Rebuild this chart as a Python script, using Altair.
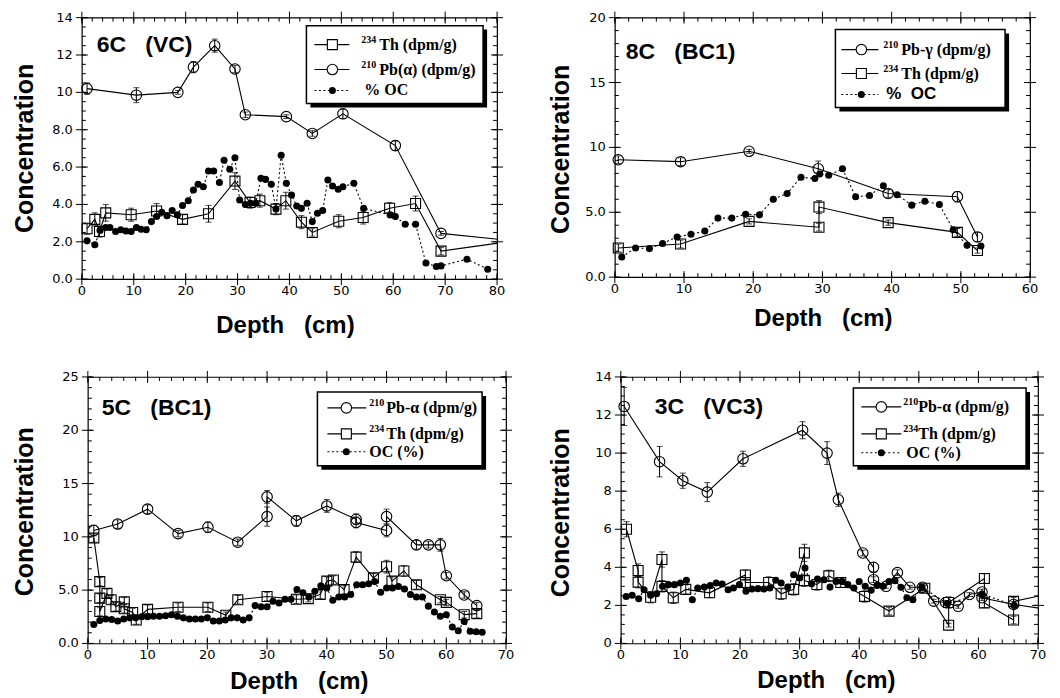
import altair as alt
import pandas as pd

# ---------------- data ----------------
# 6C (VC)
c6_th_depth = [1.0, 2.5, 3.4, 4.6, 9.5, 14.4, 19.4, 24.4, 29.5, 32.4, 34.3, 37.4, 39.3, 42.3, 44.4, 49.5, 54.2, 59.3, 64.3, 69.2, 85.0]
c6_th_conc = [2.7, 3.2, 2.55, 3.55, 3.45, 3.65, 3.2, 3.5, 5.25, 4.1, 4.2, 3.75, 4.2, 3.05, 2.5, 3.1, 3.3, 3.8, 4.05, 1.5, 2.12]
c6_th_err = [0.3, 0.35, 0.3, 0.45, 0.35, 0.4, 0.25, 0.45, 0.45, 0.3, 0.35, 0.3, 0.45, 0.35, 0.2, 0.35, 0.35, 0.3, 0.4, 0.2, 0.0]
c6_pb_depth = [1.0, 10.5, 18.5, 21.5, 25.6, 29.5, 31.5, 39.4, 44.4, 50.3, 60.4, 69.2, 85.0]
c6_pb_conc = [10.2, 9.85, 10.0, 11.35, 12.5, 11.25, 8.8, 8.7, 7.8, 8.85, 7.15, 2.45, 2.0]
c6_pb_err = [0.3, 0.4, 0.1, 0.3, 0.35, 0.2, 0.15, 0.1, 0.15, 0.25, 0.25, 0.1, 0.0]
c6_oc_depth = [1.0, 2.5, 3.5, 4.6, 5.4, 6.5, 7.5, 8.5, 9.5, 10.5, 11.4, 12.4, 13.4, 14.4, 15.4, 16.4, 17.4, 18.4, 19.4, 20.5,
               21.5, 22.4, 23.4, 24.4, 25.4, 26.5, 27.4, 28.5, 29.5, 30.4, 31.5, 32.5, 33.5, 34.5, 35.4, 36.5, 37.4, 38.4, 39.4, 40.4,
               41.4, 42.3, 43.4, 44.4, 45.4, 46.4, 47.4, 48.3, 49.4, 50.3, 52.4, 54.3, 59.4, 60.4, 62.3, 64.3, 66.3, 68.3, 69.2, 74.2, 78.2]
c6_oc_conc = [2.05, 1.84, 2.6, 2.76, 2.76, 2.55, 2.64, 2.58, 2.55, 2.76, 2.67, 2.64, 3.08, 3.35, 3.58, 3.4, 3.67, 3.44, 3.94, 4.2,
              4.77, 5.08, 4.95, 5.79, 5.79, 5.17, 6.36, 5.88, 6.5, 4.24, 4.0, 4.06, 4.06, 5.4, 5.34, 5.08, 3.76, 6.63, 5.13, 4.5,
              3.92, 3.79, 4.06, 3.08, 3.53, 3.67, 5.31, 4.99, 4.81, 4.95, 5.13, 3.79, 3.44, 3.35, 2.94, 2.94, 0.86, 0.68, 0.71, 1.07, 0.53]

# 8C (BC1)
c8_pb_depth = [0.5, 9.5, 19.4, 29.4, 39.5, 49.5, 52.4]
c8_pb_conc = [9.05, 8.9, 9.7, 8.35, 6.45, 6.2, 3.1]
c8_pb_err = [0.3, 0.3, 0.15, 0.6, 0.3, 0.4, 0.35]
c8_th_depth = [0.5, 9.5, 19.4, 29.5, 29.5, 39.5, 49.5, 52.4]
c8_th_conc = [2.25, 2.55, 4.3, 3.85, 5.4, 4.2, 3.45, 2.05]
c8_th_err = [0.3, 0.3, 0.2, 0.3, 0.5, 0.2, 0.3, 0.2]
c8_oc_depth = [1.0, 3.0, 5.0, 6.9, 9.0, 11.0, 13.0, 14.9, 16.9, 18.9, 20.9, 22.9, 24.9, 26.9, 28.9, 29.6, 30.9, 32.9, 34.8, 36.8,
               38.8, 40.8, 42.9, 44.8, 46.9, 48.9, 50.9, 52.9]
c8_oc_conc = [1.55, 2.25, 2.2, 2.6, 3.1, 3.3, 3.55, 4.55, 4.55, 4.85, 4.8, 6.0, 6.45, 7.7, 7.6, 7.95, 7.85, 8.35, 6.2, 6.3,
              7.05, 6.35, 5.55, 5.85, 5.6, 3.65, 2.45, 2.4]

# 5C (BC1)
c5_pb_depth = [1.0, 5.0, 10.0, 15.1, 20.1, 25.1, 30.0, 30.0, 34.9, 40.0, 44.9, 44.9, 50.0, 50.0, 55.0, 57.0, 59.0, 60.0, 63.0, 65.1]
c5_pb_conc = [10.6, 11.2, 12.6, 10.3, 10.9, 9.5, 11.9, 13.75, 11.5, 12.9, 11.65, 11.35, 10.6, 11.9, 9.25, 9.25, 9.25, 6.35, 4.55, 3.55]
c5_pb_err = [0.5, 0.4, 0.4, 0.3, 0.5, 0.3, 0.9, 0.6, 0.5, 0.6, 0.5, 0.5, 0.6, 0.7, 0.4, 0.3, 0.6, 0.3, 0.3, 0.3]
c5_th_depth = [1.0, 2.0, 2.0, 2.0, 3.2, 3.9, 4.7, 6.1, 6.1, 7.5, 8.1, 10.0, 15.1, 20.1, 23.1, 25.1, 30.0, 34.9, 36.9, 38.9,
               40.0, 41.1, 42.9, 44.9, 47.8, 50.0, 50.9, 52.9, 55.0, 59.0, 60.0, 63.0, 65.1]
c5_th_conc = [9.9, 5.8, 4.25, 3.0, 4.7, 4.1, 3.45, 3.9, 3.25, 2.9, 2.2, 3.2, 3.4, 3.4, 2.65, 4.1, 4.4, 4.15, 4.2, 4.6,
              5.85, 5.95, 5.05, 8.1, 6.15, 7.2, 5.85, 6.8, 5.5, 4.1, 3.85, 2.7, 2.8]
c5_th_err = [0.4, 0.4, 0.4, 0.4, 0.4, 0.4, 0.4, 0.4, 0.4, 0.4, 0.4, 0.4, 0.4, 0.4, 0.3, 0.4, 0.4, 0.4, 0.3, 0.4,
             0.4, 0.4, 0.4, 0.5, 0.4, 0.6, 0.4, 0.5, 0.4, 0.3, 0.3, 0.3, 0.4]
c5_oc_depth = [1, 2, 3, 4, 5, 6, 7, 8, 9, 10, 11, 12, 13, 14, 15, 16, 17, 18, 19, 20, 21, 22, 23, 24, 25, 26, 27,
               28, 29, 30, 31, 32, 33, 34, 35, 36, 37, 38, 39, 40, 41, 42, 43, 44, 45, 46, 47, 48,
               49, 50, 51, 52, 53, 54, 55, 56, 57, 58, 59, 60, 61, 62, 63, 64, 65, 66]
c5_oc_conc = [1.78, 2.15, 2.3, 2.25, 2.1, 2.3, 2.4, 2.4, 2.5, 2.5, 2.55, 2.55, 2.6, 2.7, 2.55, 2.4, 2.3, 2.3, 2.3, 2.4, 2.1, 2.1, 2.2, 2.4, 2.4, 2.2, 2.4,
              3.55, 3.45, 3.45, 3.95, 3.8, 4.15, 4.15, 5.05, 4.75, 4.35, 4.9, 5.4, 5.2, 4.05, 4.35, 4.35, 4.6, 5.5, 5.5, 5.6, 5.8,
              4.8, 5.2, 5.2, 5.35, 5.1, 4.6, 4.35, 4.35, 3.5, 2.95, 2.55, 2.7, 1.55, 1.2, 2.05, 1.15, 1.1, 1.05]

# 3C (VC3)
c3_pb_depth = [0.56, 6.5, 10.4, 14.5, 20.5, 30.5, 34.6, 36.5, 40.6, 42.4, 42.4, 44.5, 46.4, 48.5, 50.6, 52.5, 54.5, 56.6, 58.5, 60.6, 60.6, 65.9, 72.0]
c3_pb_conc = [12.45, 9.55, 8.55, 7.95, 9.7, 11.2, 10.0, 7.55, 4.75, 4.0, 3.35, 3.0, 3.72, 2.95, 2.95, 2.22, 2.15, 1.95, 2.57, 2.7, 2.4, 2.05, 1.77]
c3_pb_err = [1.0, 0.8, 0.4, 0.5, 0.4, 0.45, 0.6, 0.35, 0.15, 0.25, 0.15, 0.1, 0.15, 0.1, 0.15, 0.1, 0.1, 0.1, 0.1, 0.15, 0.15, 0.15, 0.0]
c3_th_depth = [0.95, 2.9, 2.9, 5.0, 6.9, 6.9, 8.8, 10.9, 14.9, 20.9, 20.9, 24.8, 26.9, 29.0, 30.8, 30.8, 32.9, 34.9, 36.9, 40.9,
               45.0, 51.0, 55.0, 55.0, 61.0, 61.0, 65.9, 65.9, 72.0]
c3_th_conc = [6.0, 3.83, 3.22, 2.43, 4.41, 3.0, 2.4, 2.84, 2.66, 3.6, 3.2, 3.2, 2.61, 2.84, 4.76, 3.3, 3.1, 3.55, 3.2, 2.47,
              1.7, 2.9, 0.96, 2.15, 3.41, 2.13, 1.23, 2.21, 2.61]
c3_th_err = [0.4, 0.35, 0.3, 0.3, 0.4, 0.3, 0.3, 0.25, 0.25, 0.25, 0.25, 0.3, 0.3, 0.3, 0.45, 0.3, 0.3, 0.3, 0.25, 0.3,
             0.2, 0.15, 0.1, 0.3, 0.25, 0.25, 0.2, 0.2, 0.0]
c3_oc_depth = [0.9, 1.9, 3.0, 3.9, 5.0, 6.0, 7.0, 8.0, 9.0, 10.0, 11.0, 12.0, 12.9, 14.0, 15.0, 16.0, 17.0, 18.0, 18.9, 19.9,
               21.0, 22.0, 23.0, 24.0, 25.0, 26.0, 26.9, 28.0, 29.0, 30.0, 30.9, 32.0, 33.0, 34.1, 35.1, 36.1, 37.1, 38.1, 39.1, 40.0,
               41.0, 42.0, 43.0, 44.0, 45.0, 46.0, 47.0, 48.0, 49.0, 50.5, 54.8, 60.6, 66.0]
c3_oc_conc = [2.47, 2.53, 2.35, 2.82, 2.53, 2.61, 3.0, 3.09, 3.09, 3.18, 3.32, 2.3, 2.91, 2.96, 3.04, 3.18, 3.12, 2.82, 2.91, 3.09,
              2.74, 2.86, 2.88, 2.86, 2.91, 3.32, 3.18, 2.96, 3.61, 3.44, 3.96, 3.14, 3.39, 3.35, 2.96, 3.26, 3.26, 3.09, 2.91, 3.25,
              3.0, 2.8, 3.05, 3.0, 3.25, 3.3, 2.95, 2.4, 2.3, 2.95, 2.1, 2.6, 2.0]

# tick labels
x_ticks_80 = [0, 10, 20, 30, 40, 50, 60, 70, 80]
x_ticks_70 = [0, 10, 20, 30, 40, 50, 60, 70]
x_ticks_60 = [0, 10, 20, 30, 40, 50, 60]
y_ticks_14 = [0, 2, 4, 6, 8, 10, 12, 14]
y_labels_14_dec = ["0.0", "2.0", "4.0", "6.0", "8.0", "10", "12", "14"]
y_labels_14_int = ["0", "2", "4", "6", "8", "10", "12", "14"]
y_ticks_20 = [0, 5, 10, 15, 20]
y_labels_20 = ["0.0", "5.0", "10", "15", "20"]
y_ticks_25 = [0, 5, 10, 15, 20, 25]
y_labels_25 = ["0.0", "5.0", "10", "15", "20", "25"]

SANS = "Liberation Sans"
SERIF = "Liberation Serif"
TICKF = "DejaVu Sans"
NB = "\u00a0"
ONE = pd.DataFrame({"k": [0]})


def series_layers(kind, depth, conc, err, xs, ys, xmax):
    df = pd.DataFrame({"d": depth, "c": conc})
    df["i"] = list(range(len(df)))
    X = alt.X("d:Q", scale=xs, axis=None)
    Y = alt.Y("c:Q", scale=ys, axis=None)
    out = []
    if kind == "oc":
        out.append(alt.Chart(df).mark_line(color="black", strokeWidth=1.1, strokeDash=[2, 2.5], clip=True)
                   .encode(x=X, y=Y, order=alt.Order("i:Q")))
        out.append(alt.Chart(df).mark_circle(color="black", size=50, opacity=1).encode(x=X, y=Y))
        return out
    df["lo"] = [c - e for c, e in zip(conc, err)]
    df["hi"] = [c + e for c, e in zip(conc, err)]
    out.append(alt.Chart(df).mark_line(color="black", strokeWidth=1.1, clip=True)
               .encode(x=X, y=Y, order=alt.Order("i:Q")))
    eb = alt.Chart(df).transform_filter(alt.datum.d <= xmax)
    out.append(eb.mark_rule(color="black", strokeWidth=1).encode(
        x=X, y=alt.Y("lo:Q", scale=ys, axis=None), y2=alt.Y2("hi:Q")))
    for f in ["lo", "hi"]:
        out.append(eb.mark_tick(color="black", orient="horizontal", size=6, thickness=1).encode(
            x=X, y=alt.Y(f + ":Q", scale=ys, axis=None)))
    shape = "square" if kind == "th" else "circle"
    size = 100 if kind == "th" else 110
    out.append(eb.mark_point(shape=shape, filled=False, color="black", size=size, strokeWidth=1.1, opacity=1)
               .encode(x=X, y=Y))
    return out


def steps(a, b, s):
    out, v = [], a
    while v <= b + 1e-9:
        out.append(round(v, 3))
        v += s
    return out


def tick_layers(p, xs, ys):
    W, H = p["W"], p["H"]
    xmaj, ymaj = p["xmaj"], p["ymaj"]
    xmin = steps(0, p["xmax"], p["xminor"])
    ymin = steps(0, p["ymax"], p["yminor"])

    def rx(vals, a, b):
        return alt.Chart(pd.DataFrame({"v": vals})).mark_rule(color="black", strokeWidth=1).encode(
            x=alt.X("v:Q", scale=xs, axis=None), y=alt.value(a), y2=alt.value(b))

    def ry(vals, a, b):
        return alt.Chart(pd.DataFrame({"v": vals})).mark_rule(color="black", strokeWidth=1).encode(
            y=alt.Y("v:Q", scale=ys, axis=None), x=alt.value(a), x2=alt.value(b))
    out = [rx(xmaj, H - 6, H + 6), rx(xmaj, -6, 6), rx(xmin, H - 4, H), rx(xmin, 0, 4),
           ry(ymaj, -6, 6), ry(ymaj, W - 6, W + 6), ry(ymin, 0, 4), ry(ymin, W - 4, W)]
    # tick labels
    xdf = pd.DataFrame({"v": xmaj, "t": [str(v) for v in xmaj]})
    ydf = pd.DataFrame({"v": ymaj, "t": p["ylab"]})
    out.append(alt.Chart(xdf).mark_text(font=TICKF, fontSize=13, align="center", baseline="top", color="black")
               .encode(x=alt.X("v:Q", scale=xs, axis=None), y=alt.value(H + 6), text="t:N"))
    out.append(alt.Chart(ydf).mark_text(font=TICKF, fontSize=13, align="right", baseline="middle", color="black")
               .encode(y=alt.Y("v:Q", scale=ys, axis=None), x=alt.value(-9), text="t:N"))
    # axis titles
    out.append(alt.Chart(ONE).mark_text(text="Depth" + NB * 3 + "(cm)", font=SANS, fontSize=24, fontWeight="bold",
                                        align="center", baseline="alphabetic", color="black")
               .encode(x=alt.value(p["xt"][0]), y=alt.value(H + p["xt"][1])))
    out.append(alt.Chart(ONE).mark_text(text="Concentration", font=SANS, fontSize=25, fontWeight="bold",
                                        align="center", baseline="alphabetic", angle=270, color="black")
               .encode(x=alt.value(p["yt"][0]), y=alt.value(p["yt"][1])))
    return out


def legend_layers(lg):
    out = []
    x1, y1, x2, y2 = lg["box"]
    out.append(alt.Chart(ONE).mark_rect(fill="black").encode(
        x=alt.value(x1 + 4), x2=alt.value(x2 + 4), y=alt.value(y1 + 4), y2=alt.value(y2 + 4)))
    out.append(alt.Chart(ONE).mark_rect(fill="white", stroke="black", strokeWidth=1.5).encode(
        x=alt.value(x1), x2=alt.value(x2), y=alt.value(y1), y2=alt.value(y2)))
    lx1, lx2 = lg["line"]
    mx = lg["marker"]
    for row in lg["rows"]:
        kind, ry = row["kind"], row["y"]
        dash = [2, 2.5] if kind == "oc" else [1, 0]
        out.append(alt.Chart(ONE).mark_rule(color="black", strokeWidth=1.1, strokeDash=dash).encode(
            x=alt.value(lx1), x2=alt.value(lx2), y=alt.value(ry)))
        if kind == "oc":
            out.append(alt.Chart(ONE).mark_circle(color="black", size=50, opacity=1).encode(
                x=alt.value(mx), y=alt.value(ry)))
        else:
            out.append(alt.Chart(ONE).mark_point(shape="square" if kind == "th" else "circle", filled=False,
                                                 fill="white", color="black",
                                                 size=100 if kind == "th" else 110,
                                                 strokeWidth=1.1, opacity=1)
                       .encode(x=alt.value(mx), y=alt.value(ry)))
        if row.get("sup"):
            out.append(alt.Chart(ONE).mark_text(text=row["sup"], font=SERIF, fontSize=10, fontWeight="bold",
                                                align="left", baseline="middle", color="black")
                       .encode(x=alt.value(lg["supx"]), y=alt.value(ry - 5)))
            tx = lg["mainx"]
        else:
            tx = row["x"]
        out.append(alt.Chart(ONE).mark_text(text=row["text"], font=row.get("font", SERIF),
                                            fontSize=row.get("size", 16), fontWeight="bold",
                                            align="left", baseline="middle", color="black")
                   .encode(x=alt.value(tx), y=alt.value(ry)))
    return out


def panel(p):
    W, H = p["W"], p["H"]
    xs = alt.Scale(domain=[0, p["xmax"]], nice=False, zero=False)
    ys = alt.Scale(domain=[0, p["ymax"]], nice=False, zero=False)
    layers = tick_layers(p, xs, ys)
    for s in p["series"]:
        layers += series_layers(*s, xs, ys, p["xmax"])
    layers += legend_layers(p["legend"])
    lx, ly = p["label_pos"]
    layers.append(alt.Chart(ONE).mark_text(text=p["label"], font=SANS, fontSize=23, fontWeight="bold",
                                           align="left", baseline="middle", color="black")
                  .encode(x=alt.value(lx), y=alt.value(ly)))
    return alt.layer(*layers).properties(width=W, height=H)


P1 = dict(W=416, H=262, xmax=80, ymax=14, xmaj=x_ticks_80, xminor=2, ymaj=y_ticks_14, yminor=0.5,
          ylab=y_labels_14_dec, xt=(204, 53.5), yt=(-49, 131),
          series=[("oc", c6_oc_depth, c6_oc_conc, None),
                  ("th", c6_th_depth, c6_th_conc, c6_th_err),
                  ("pb", c6_pb_depth, c6_pb_conc, c6_pb_err)],
          legend=dict(box=(225, 8, 402, 86), line=(233, 268), marker=251, supx=280, mainx=298,
                      rows=[dict(kind="th", y=27, sup="234", text="Th (dpm/g)"),
                            dict(kind="pb", y=52, sup="210", text="Pb(α) (dpm/g)"),
                            dict(kind="oc", y=73, text="% OC", x=283)]),
          label="6C" + NB * 3 + "(VC)", label_pos=(15, 27))

P2 = dict(W=416, H=260, xmax=60, ymax=20, xmaj=x_ticks_60, xminor=2, ymaj=y_ticks_20, yminor=1,
          ylab=y_labels_20, xt=(209, 48.5), yt=(-46, 132),
          series=[("oc", c8_oc_depth, c8_oc_conc, None),
                  ("th", c8_th_depth, c8_th_conc, c8_th_err),
                  ("pb", c8_pb_depth, c8_pb_conc, c8_pb_err)],
          legend=dict(box=(221, 12, 391, 90), line=(227, 264), marker=247, supx=269, mainx=287,
                      rows=[dict(kind="pb", y=32, sup="210", text="Pb-γ (dpm/g)"),
                            dict(kind="th", y=56, sup="234", text="Th (dpm/g)"),
                            dict(kind="oc", y=77, text="%" + NB * 2 + "OC", x=272, font=SANS, size=17)]),
          label="8C" + NB * 3 + "(BC1)", label_pos=(11, 34))

P3 = dict(W=419, H=267, xmax=70, ymax=25, xmaj=x_ticks_70, xminor=2, ymaj=y_ticks_25, yminor=1,
          ylab=y_labels_25, xt=(212, 45.5), yt=(-55, 135),
          series=[("oc", c5_oc_depth, c5_oc_conc, None),
                  ("th", c5_th_depth, c5_th_conc, c5_th_err),
                  ("pb", c5_pb_depth, c5_pb_conc, c5_pb_err)],
          legend=dict(box=(230, 15, 395, 89), line=(240, 279), marker=259, supx=282, mainx=299,
                      rows=[dict(kind="pb", y=31, sup="210", text="Pb-α (dpm/g)"),
                            dict(kind="th", y=57, sup="234", text="Th (dpm/g)"),
                            dict(kind="oc", y=75, text="OC (%)", x=282)]),
          label="5C" + NB * 3 + "(BC1)", label_pos=(14, 31))

P4 = dict(W=418, H=267, xmax=70, ymax=14, xmaj=x_ticks_70, xminor=2, ymaj=y_ticks_14, yminor=0.5,
          ylab=y_labels_14_int, xt=(206, 44.5), yt=(-52, 136),
          series=[("oc", c3_oc_depth, c3_oc_conc, None),
                  ("th", c3_th_depth, c3_th_conc, c3_th_err),
                  ("pb", c3_pb_depth, c3_pb_conc, c3_pb_err)],
          legend=dict(box=(233, 11, 406, 89), line=(241, 281), marker=261, supx=283, mainx=298,
                      rows=[dict(kind="pb", y=30, sup="210", text="Pb-α (dpm/g)"),
                            dict(kind="th", y=57, sup="234", text="Th (dpm/g)"),
                            dict(kind="oc", y=76, text="OC (%)", x=286)]),
          label="3C" + NB * 3 + "(VC3)", label_pos=(34, 30))

# invisible 6px spacer so that the lower row starts a little further right, as in the original
spacer = alt.Chart(ONE).mark_point(opacity=0).encode(x=alt.value(0), y=alt.value(0)).properties(
    width=6, height=267, view=alt.ViewBackground(strokeOpacity=0))

row1 = alt.hconcat(panel(P1), panel(P2), spacing=118, bounds="flush")
row2 = alt.hconcat(spacer, alt.hconcat(panel(P3), panel(P4), spacing=115, bounds="flush"),
                   spacing=0, bounds="flush")

chart = alt.concat(row1, row2, columns=1, align="none", spacing=30).properties(
    padding={"left": 4, "top": 1, "right": 5, "bottom": 5},
    background="white",
).configure_view(stroke="black", strokeWidth=1.2)

chart.save("out.html", embed_options={"renderer": "svg", "actions": False})
